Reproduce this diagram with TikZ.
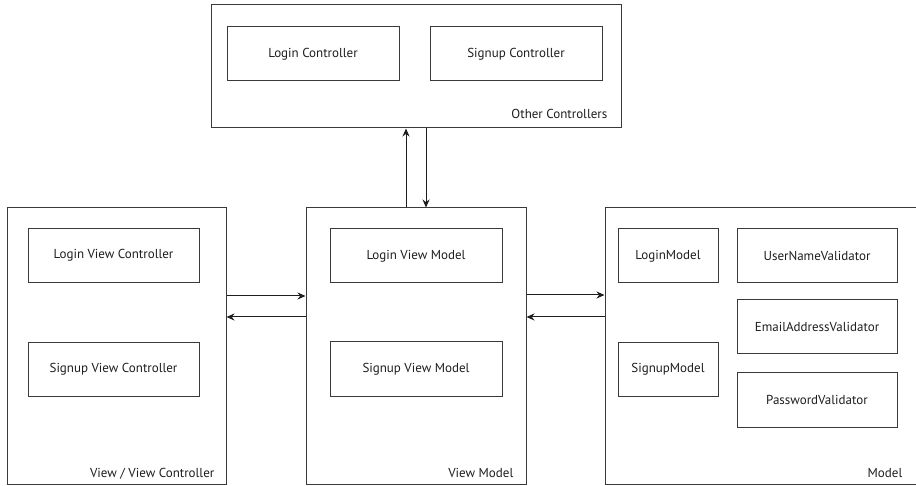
\documentclass[tikz,border=0pt]{standalone}
\usepackage{fontspec}
\setmainfont{PT Sans}
\usetikzlibrary{arrows.meta,positioning}
\definecolor{ink}{HTML}{1E1E1E}
\definecolor{frame}{HTML}{3A3A3A}
\newcommand{\labfont}{\fontsize{13}{15}\selectfont}
\tikzset{
 every node/.append style={font=\labfont,text=ink,align=center},
 group/.style={draw=frame,fill=white,line width=1pt,inner sep=0pt},
 item/.style={draw=frame,fill=white,line width=1pt,inner sep=2pt,minimum height=54pt},
 tag/.style={anchor=base east,inner sep=0pt},
 flow/.style={-{Stealth[length=8pt,width=7pt]},draw=ink,line width=1pt},
}
\begin{document}
\begin{tikzpicture}[x=1pt,y=-1pt]

\useasboundingbox (0,0) rectangle (916,486);
% layers
\node[group,minimum width=410pt,minimum height=123pt] (ctrl) at (416,66.5) {};
\node[group,minimum width=219pt,minimum height=276pt] (view) at (116.5,346) {};
\node[group,minimum width=220pt,minimum height=276pt] (vm) at (416,346) {};
\node[group,minimum width=312pt,minimum height=276pt] (model) at (761,346) {};
\node[tag] (ctrltag) at ([shift={(-14,-10)}]ctrl.south east) {Other Controllers};
\node[tag] (viewtag) at ([shift={(-12,-7)}]view.south east) {View / View Controller};
\node[tag] (vmtag) at ([shift={(-13,-7)}]vm.south east) {View Model};
\node[tag] (modeltag) at ([shift={(-15,-7)}]model.south east) {Model};
% members
\node[item,minimum width=172pt] (loginc) at (313,54) {Login Controller};
\node[item,minimum width=172pt] (signupc) at (516,54) {Signup Controller};
\node[item,minimum width=171pt] (loginvc) at (113.5,255.5) {Login View Controller};
\node[item,minimum width=171pt] (signupvc) at (113.5,369.5) {Signup View Controller};
\node[item,minimum width=172pt] (loginvm) at (416,256) {Login View Model};
\node[item,minimum width=172pt] (signupvm) at (416,369) {Signup View Model};
\node[item,minimum width=100pt] (loginm) at (668,256) {LoginModel};
\node[item,minimum width=100pt] (signupm) at (668,369.5) {SignupModel};
\node[item,minimum width=160pt] (uservalid) at (817,256) {UserNameValidator};
\node[item,minimum width=160pt] (mailvalid) at (817,327) {EmailAddressValidator};
\node[item,minimum width=160pt] (passvalid) at (817,400) {PasswordValidator};
% bindings
\draw[flow] ([yshift=50pt]view.east) -- ([yshift=50pt]vm.west);
\draw[flow] ([yshift=29pt]vm.west) -- ([yshift=29pt]view.east);
\draw[flow] ([yshift=51pt]vm.east) -- ([yshift=51pt]model.west);
\draw[flow] ([yshift=29pt]model.west) -- ([yshift=29pt]vm.east);
\draw[flow] ([xshift=-10pt]vm.north) -- ([xshift=-10pt]ctrl.south);
\draw[flow] ([xshift=10pt]ctrl.south) -- ([xshift=10pt]vm.north);

\end{tikzpicture}
\end{document}
